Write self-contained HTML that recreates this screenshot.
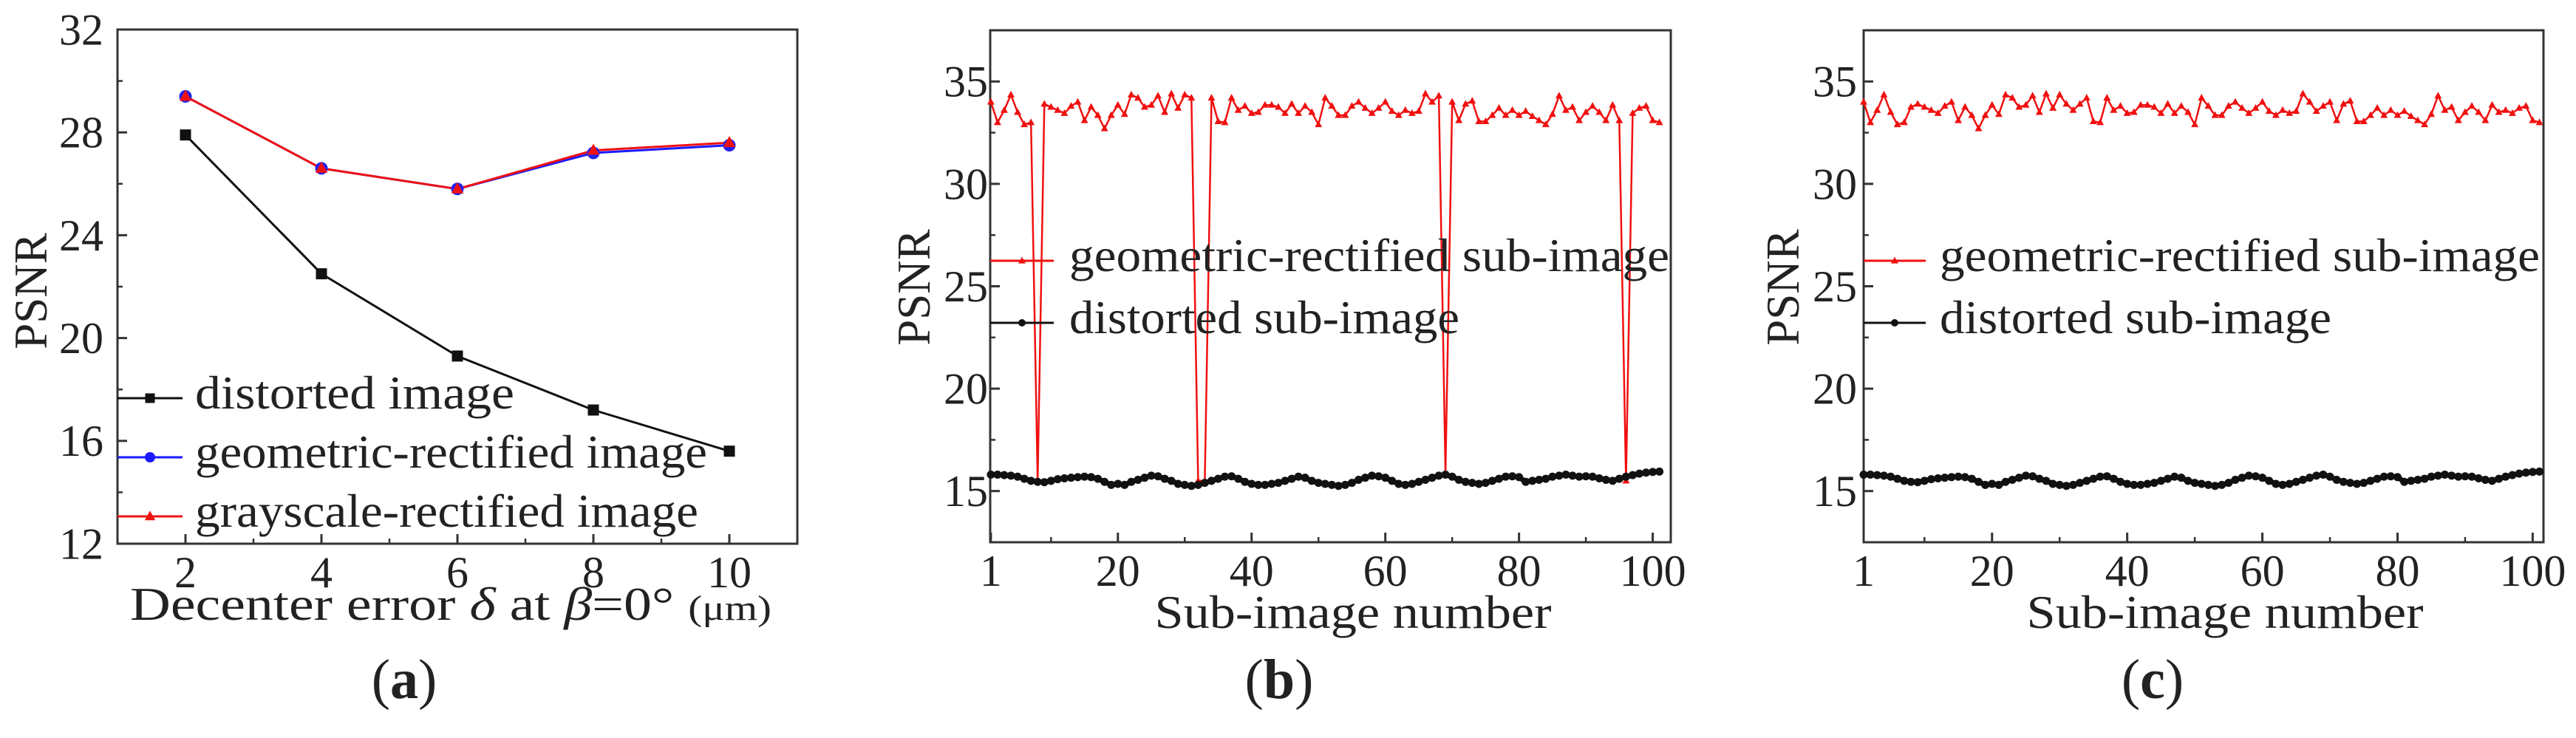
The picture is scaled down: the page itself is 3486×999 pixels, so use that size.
<!DOCTYPE html>
<html><head><meta charset="utf-8">
<style>
html,body{margin:0;padding:0;background:#fff;}
svg{display:block;font-family:"Liberation Serif","Times New Roman",serif;}
svg text{font-family:"Liberation Serif","Times New Roman",serif;}
</style></head>
<body>
<svg id="fig" width="3486" height="999" viewBox="0 0 3486 999" xmlns="http://www.w3.org/2000/svg">
<rect x="0" y="0" width="3486" height="999" fill="#fff"/>
</svg>
<script>
// ---------- Panel (a) data ----------
const aCategories = [2, 4, 6, 8, 10];
const aDistorted = [27.9, 22.5, 19.3, 17.2, 15.6];
const aGeometric = [29.4, 26.6, 25.8, 27.2, 27.5];
const aGrayscale = [29.4, 26.6, 25.8, 27.3, 27.6];
const aYTicks = [12, 16, 20, 24, 28, 32];
const aXTicks = [2, 4, 6, 8, 10];

// ---------- Panels (b),(c) data ----------
const subIndex = Array.from({length: 101}, (_, i) => i + 1);
const geomC = [34.0,33.0,33.6,34.35,33.5,32.9,33.0,33.75,33.9,33.75,
33.6,33.45,33.8,34.0,33.1,33.75,33.35,32.7,33.35,33.85,
33.4,34.35,34.2,33.75,33.85,34.3,33.5,34.4,33.7,34.35,
33.9,33.6,33.9,34.2,33.05,33.0,34.2,33.6,33.8,33.45,
33.5,33.85,33.85,33.75,33.45,33.9,33.45,33.8,33.5,32.9,
34.2,33.8,33.35,33.35,33.8,34.0,33.7,33.45,33.7,34.0,
33.55,33.35,33.6,33.45,33.55,34.4,34.0,33.55,33.8,34.0,
33.1,33.9,34.05,33.05,33.05,33.35,33.7,33.35,33.6,33.35,
33.55,33.3,33.1,32.9,33.4,34.3,33.6,33.75,33.1,33.5,
33.8,33.5,33.1,33.85,33.5,33.6,33.45,33.7,33.8,33.1,33.0];
const geomB = [34.0,33.0,33.6,34.35,33.5,32.9,33.0,15.5,33.9,33.75,
33.6,33.45,33.8,34.0,33.1,33.75,33.35,32.7,33.35,33.85,
33.4,34.35,34.2,33.75,33.85,34.3,33.5,34.4,33.7,34.35,
34.2,15.5,15.5,34.2,33.05,33.0,34.2,33.6,33.8,33.45,
33.5,33.85,33.85,33.75,33.45,33.9,33.45,33.8,33.5,32.9,
34.2,33.8,33.35,33.35,33.8,34.0,33.7,33.45,33.7,34.0,
33.55,33.35,33.6,33.45,33.55,34.4,34.0,34.3,15.9,34.0,
33.1,33.9,34.05,33.05,33.05,33.35,33.7,33.35,33.6,33.35,
33.55,33.3,33.1,32.9,33.4,34.3,33.6,33.75,33.1,33.5,
33.8,33.5,33.1,33.85,33.1,15.5,33.45,33.7,33.8,33.1,33.0];
const distorted = [15.8,15.8,15.78,15.75,15.7,15.6,15.5,15.45,15.43,15.5,
15.58,15.62,15.65,15.68,15.7,15.68,15.6,15.45,15.3,15.35,
15.3,15.45,15.55,15.65,15.75,15.72,15.6,15.5,15.35,15.3,
15.25,15.3,15.4,15.5,15.6,15.7,15.72,15.6,15.45,15.35,
15.3,15.3,15.35,15.4,15.5,15.6,15.7,15.65,15.5,15.4,
15.35,15.3,15.25,15.3,15.4,15.55,15.65,15.75,15.72,15.65,
15.5,15.35,15.3,15.35,15.45,15.55,15.65,15.75,15.8,15.7,
15.55,15.45,15.4,15.35,15.4,15.5,15.6,15.7,15.72,15.68,
15.45,15.5,15.55,15.6,15.7,15.75,15.8,15.75,15.7,15.72,
15.7,15.62,15.55,15.5,15.6,15.7,15.78,15.85,15.9,15.93,15.95];
const bcYTicks = [15, 20, 25, 30, 35];
const bcXTicks = [1, 20, 40, 60, 80, 100];

const NS = "http://www.w3.org/2000/svg";
const FONT = '"Liberation Serif", "Times New Roman", serif';
const svg = document.getElementById('fig');
function mk(tag, attrs, parent, text) {
  const e = document.createElementNS(NS, tag);
  for (const k in attrs) e.setAttribute(k, attrs[k]);
  if (tag === 'text') e.setAttribute('font-family', FONT);
  if (text !== undefined) e.textContent = text;
  (parent || svg).appendChild(e);
  return e;
}
function scale(d0, d1, r0, r1) { return v => r0 + (v - d0) * (r1 - r0) / (d1 - d0); }

function axes(g, box, xs, ys, yTicks, yMinor, xTicks, xMinor, yLabelRight, fs) {
  const frame = mk('rect', {x: box.l, y: box.t, width: box.r - box.l, height: box.b - box.t, fill: 'none', stroke: '#333', 'stroke-width': 3}, g);
  
  
  yTicks.forEach(v => {
    const y = ys(v);
    const t = mk('line', {x1: box.l, x2: box.l + 13, y1: y, y2: y, stroke: '#333', 'stroke-width': 3}, g);
    
    
    const lb = mk('text', {x: yLabelRight, y: y + fs * 0.34, 'font-size': fs, 'text-anchor': 'end', fill: '#222'}, g, String(v));
    
    
  });
  yMinor.forEach(v => {
    const y = ys(v);
    const t = mk('line', {x1: box.l, x2: box.l + 7, y1: y, y2: y, stroke: '#333', 'stroke-width': 2.5}, g);
    
    
  });
  xTicks.forEach(v => {
    const x = xs(v);
    const t = mk('line', {x1: x, x2: x, y1: box.b, y2: box.b - 13, stroke: '#333', 'stroke-width': 3}, g);
    
    
    const lb = mk('text', {x: x, y: box.b + 59, 'font-size': fs, 'text-anchor': 'middle', fill: '#222'}, g, String(v));
    
    
  });
  xMinor.forEach(v => {
    const x = xs(v);
    const t = mk('line', {x1: x, x2: x, y1: box.b, y2: box.b - 7, stroke: '#333', 'stroke-width': 2.5}, g);
    
    
  });
}
function seriesPath(g, xsArr, ysArr, xs, ys, color, w, name) {
  const d = xsArr.map((x, i) => (i ? 'L' : 'M') + xs(x).toFixed(1) + ' ' + ys(ysArr[i]).toFixed(1)).join(' ');
  const p = mk('path', {d: d, fill: 'none', stroke: color, 'stroke-width': w, 'stroke-linejoin': 'round'}, g);
  
  
}
function marker(g, type, x, y, s, color) {
  let e;
  if (type === 'square') e = mk('rect', {x: x - s / 2, y: y - s / 2, width: s, height: s, fill: color}, g);
  else if (type === 'circle') e = mk('circle', {cx: x, cy: y, r: s / 2, fill: color}, g);
  else e = mk('polygon', {points: `${x},${y - s * 0.6} ${x - s * 0.55},${y + s * 0.4} ${x + s * 0.55},${y + s * 0.4}`, fill: color}, g);
  
  
}
function text(g, x, y, fs, str, anchor, name, extra) {
  const t = mk('text', Object.assign({x: x, y: y, 'font-size': fs, 'text-anchor': anchor, fill: '#222'}, extra || {}), g, str);
  
  
  return t;
}
function legendEntry(g, x1, x2, y, color, type, ms, label, tx, tlen, fs) {
  const l = mk('line', {x1: x1, x2: x2, y1: y, y2: y, stroke: color, 'stroke-width': 3}, g);
  
  
  marker(g, type, (x1 + x2) / 2, y, ms, color);
  const t = text(g, tx, y + 14, fs, label, 'start', 'legend-label', {textLength: tlen, lengthAdjust: 'spacingAndGlyphs'});
  t.setAttribute('xml:space', 'preserve');
}

// ---------- Panel (a) ----------
(function () {
  const g = mk('g', {});
  
  
  const box = {l: 159, r: 1079, t: 40, b: 736};
  const xs = scale(1, 11, box.l, box.r), ys = scale(12, 32, box.b, box.t);
  axes(g, box, xs, ys, aYTicks, [14, 18, 22, 26, 30], aXTicks, [3, 5, 7, 9], 140, 60);
  seriesPath(g, aCategories, aDistorted, xs, ys, '#111', 3, 'distorted-line');
  seriesPath(g, aCategories, aGeometric, xs, ys, '#1a1aff', 3, 'geometric-line');
  seriesPath(g, aCategories, aGrayscale, xs, ys, '#ee1111', 3, 'grayscale-line');
  aCategories.forEach((c, i) => {
    marker(g, 'square', xs(c), ys(aDistorted[i]), 15, '#111');
    marker(g, 'circle', xs(c), ys(aGeometric[i]), 17, '#2222ee');
    marker(g, 'triangle', xs(c), ys(aGrayscale[i]), 15, '#ee1111');
  });
  legendEntry(g, 159, 247, 539, '#111', 'square', 13, 'distorted  image', 264, 432, 63);
  legendEntry(g, 159, 247, 619, '#1a1aff', 'circle', 14, 'geometric-rectified image', 264, 693, 63);
  legendEntry(g, 159, 247, 699, '#ee1111', 'triangle', 13, 'grayscale-rectified image', 264, 681, 63);
  text(g, 0, 0, 63, 'PSNR', 'middle', 'y-axis-title', {transform: 'translate(63,394) rotate(-90)'});
  const xl = mk('text', {x: 176, y: 839, 'font-size': 64, fill: '#222', textLength: 868, lengthAdjust: 'spacingAndGlyphs'}, g);
  
  
  xl.innerHTML = 'Decenter error <tspan font-style="italic">δ</tspan> at <tspan font-style="italic">β</tspan>=0° <tspan font-size="48">(μm)</tspan>';
  text(g, 547, 945, 76, '(a)', 'middle', 'panel-label-a').innerHTML = '(<tspan font-weight="bold">a</tspan>)';
})();

// ---------- Panels (b),(c) ----------
function subPanel(name, box, xmin, xmax, geom, yLabelRight, legendX2, textX, psnrX, xlabelX, labelX, lab, dEnd) {
  const g = mk('g', {});
  
  
  const xs = scale(xmin, xmax, box.l, box.r), ys = scale(12.5, 37.5, box.b, box.t);
  axes(g, box, xs, ys, bcYTicks, [17.5, 22.5, 27.5, 32.5], bcXTicks, [10, 30, 50, 70, 90], yLabelRight, 60);
  seriesPath(g, subIndex, geom, xs, ys, '#f01010', 2.5, 'geometric-rectified-line');
  seriesPath(g, subIndex, distorted, xs, ys, '#111', 7, 'distorted-line');
  subIndex.forEach((c, i) => {
    marker(g, 'triangle', xs(c), ys(geom[i]), 9, '#f01010');
    marker(g, 'circle', xs(c), ys(distorted[i]), 11, '#111');
  });
  legendEntry(g, box.l, legendX2, 353, '#f01010', 'triangle', 9, 'geometric-rectified sub-image', textX, 812, 63);
  legendEntry(g, box.l, legendX2, 437, '#111', 'circle', 10, 'distorted sub-image', textX, dEnd - textX, 63);
  text(g, 0, 0, 63, 'PSNR', 'middle', 'y-axis-title', {transform: `translate(${psnrX},389) rotate(-90)`});
  text(g, xlabelX, 850, 64, 'Sub-image number', 'middle', 'x-axis-title', {textLength: 537, lengthAdjust: 'spacingAndGlyphs'});
  text(g, labelX, 945, 76, '(' + lab + ')', 'middle', 'panel-label-' + lab).innerHTML = '(<tspan font-weight="bold">' + lab + '</tspan>)';
}
subPanel('panel-b', {l: 1340, r: 2261, t: 41, b: 734}, 0.9, 102.7, geomB, 1337, 1426, 1447, 1258, 1831, 1731, 'b', 1975);
subPanel('panel-c', {l: 2522, r: 3442, t: 41, b: 734}, 1, 101.6, geomC, 2513, 2606, 2625, 2434, 3011, 2913, 'c', 3155);
</script>
</body></html>
